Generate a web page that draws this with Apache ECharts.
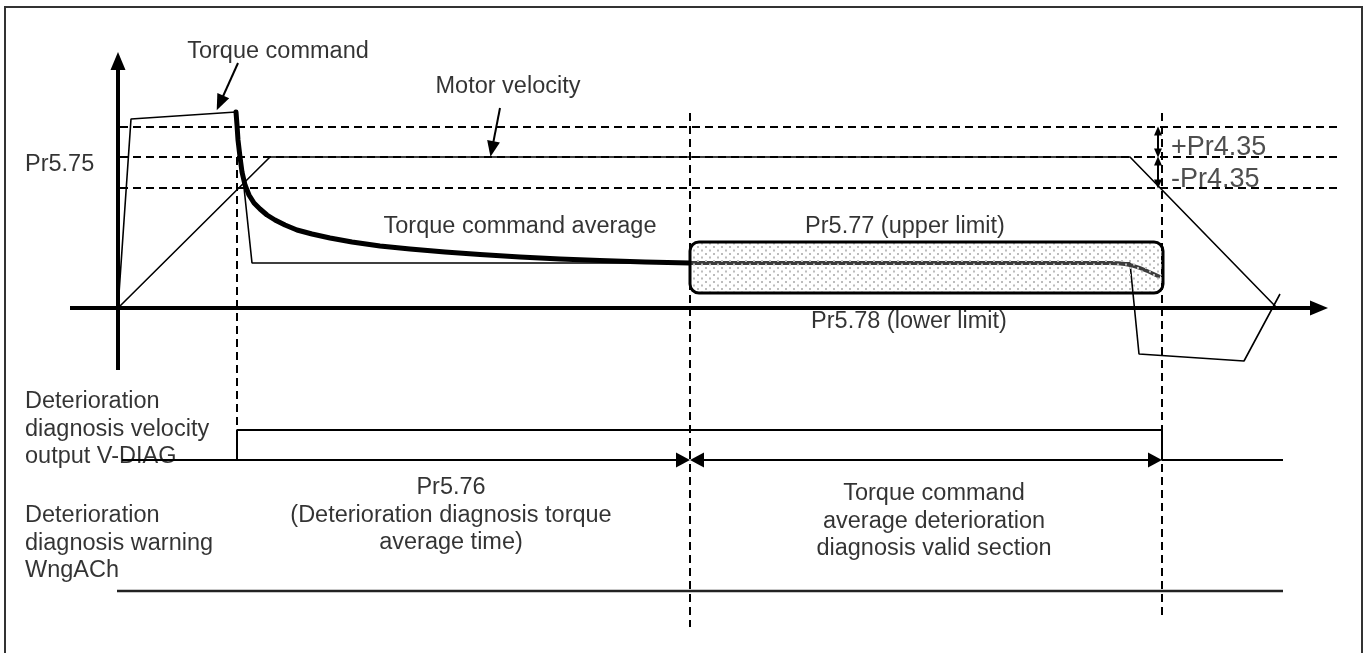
<!DOCTYPE html>
<html>
<head>
<meta charset="utf-8">
<title>Deterioration diagnosis</title>
<script src="https://cdn.jsdelivr.net/npm/echarts@6/dist/echarts.min.js"></script>
<style>
  html, body { margin: 0; padding: 0; background: #fff; }
  #chart { width: 1365px; height: 653px; }
</style>
</head>
<body>
<div id="chart"></div>
<script>
// x = time (0 = start of the move), y = level (0 = zero torque / velocity)
var torqueCmd = [[0, 0], [13, 189], [118, 196], [134, 45], [1012, 45], [1021, -46], [1126, -53], [1162, 14]];
var motorVel = [[0, 0], [152, 151], [1012, 151], [1159, 0]];
var torqueAvg = [[118, 196], [119, 183], [120, 168], [122, 151], [124, 136], [127, 123], [131, 113], [136, 105],
                 [142, 99], [149, 93], [157, 88], [167, 83], [179, 78], [194, 74], [212, 70], [234, 66],
                 [262, 62], [292, 59], [327, 56], [362, 53.5], [402, 51], [442, 49], [482, 47.5], [527, 46], [572, 45]];
var torqueAvgValid = [[572, 45], [992, 45], [1007, 44], [1022, 40], [1042, 31]];
var vDiag = [[4, -152], [119, -152], [119, -122], [1044, -122], [1044, -152], [1165, -152]];
var wngACh = [[-1, -283], [1165, -283]];

// Pr5.75 + Pr4.35, Pr5.75, Pr5.75 - Pr4.35
var levels = [181, 151, 120];
var levelSpan = [2, 1224];
// time, top, bottom
var markTimes = [[119, 151, -122], [572, 195, -319], [1044, 195, -310]];
// x0, y0, x1, y1  (Pr5.77 upper .. Pr5.78 lower window)
var limitBox = [572, 66, 1045, 15];

var axisX = [[-48, 0], [1201, 0]];
var axisY = [[0, -62], [0, 247]];
var pointers = [
  [[120, 245], [102, 205]],
  [[382, 200], [374, 159]]
];
var dimSpans = [
  [[119, -152, 'none'], [565, -152, 'triangle']],
  [[579, -152, 'triangle'], [1037, -152, 'triangle']]
];
var deltaSpans = [
  [[1040, 177], [1040, 155]],
  [[1040, 147], [1040, 124]]
];

var labels = [
  { text: 'Torque command', at: [160, 256], align: 'center' },
  { text: 'Motor velocity', at: [390, 221], align: 'center' },
  { text: 'Pr5.75', at: [-93, 143], align: 'left' },
  { text: '+Pr4.35', at: [1053, 160], align: 'left', big: true },
  { text: '-Pr4.35', at: [1053, 128], align: 'left', big: true },
  { text: 'Torque command average', at: [402, 81], align: 'center' },
  { text: 'Pr5.77 (upper limit)', at: [787, 81], align: 'center' },
  { text: 'Pr5.78 (lower limit)', at: [791, -14], align: 'center' },
  { text: 'Deterioration\ndiagnosis velocity\noutput V-DIAG', at: [-93, -80], align: 'left', top: true },
  { text: 'Deterioration\ndiagnosis warning\nWngACh', at: [-93, -194], align: 'left', top: true },
  { text: 'Pr5.76\n(Deterioration diagnosis torque\naverage time)', at: [333, -166], align: 'center', top: true },
  { text: 'Torque command\naverage deterioration\ndiagnosis valid section', at: [816, -172], align: 'center', top: true }
];

var FONT = "'Liberation Sans', Arial, sans-serif";
var DASH = [8, 5];

// dotted fill for the limit window
var dots = document.createElement('canvas');
dots.width = 8;
dots.height = 7;
var g = dots.getContext('2d');
g.fillStyle = '#bcbcbc';
g.fillRect(1, 1, 2, 2);
g.fillRect(5, 4.5, 2, 2);

function plain(name, data, color, width, z) {
  return {
    name: name, type: 'line', data: data, symbol: 'none', z: z || 3,
    lineStyle: { color: color, width: width }
  };
}

function arrows(name, pairs, width, size, symbols) {
  return {
    name: name, type: 'line', data: [], z: 6,
    markLine: {
      silent: true, animation: false,
      symbol: symbols || ['none', 'triangle'],
      symbolSize: size,
      label: { show: false },
      lineStyle: { color: '#000', width: width, type: 'solid' },
      data: pairs.map(function (p) {
        var a = { coord: [p[0][0], p[0][1]] };
        var b = { coord: [p[1][0], p[1][1]] };
        if (p[0][2]) a.symbol = p[0][2];
        if (p[1][2]) b.symbol = p[1][2];
        return [a, b];
      })
    }
  };
}

var series = [];

levels.forEach(function (lv, i) {
  series.push({
    name: 'level' + i, type: 'line', symbol: 'none', z: 2,
    data: [[levelSpan[0], lv], [levelSpan[1], lv]],
    lineStyle: { color: '#000', width: 2, type: DASH }
  });
});
markTimes.forEach(function (m, i) {
  series.push({
    name: 'mark' + i, type: 'line', symbol: 'none', z: 2,
    data: [[m[0], m[1]], [m[0], m[2]]],
    lineStyle: { color: '#000', width: 2, type: DASH }
  });
});

series.push(plain('Torque command', torqueCmd, '#000', 1.6));
series.push(plain('Motor velocity', motorVel, '#000', 1.6));
series.push({
  name: 'Torque command average', type: 'line', data: torqueAvg, symbol: 'none', z: 4,
  lineStyle: { color: '#000', width: 5, join: 'round', cap: 'round' }
});
series.push({
  name: 'Torque command average (valid)', type: 'line', data: torqueAvgValid, symbol: 'none', z: 4,
  smooth: 0.3,
  lineStyle: { color: '#3c3c3c', width: 4 }
});
series.push(plain('V-DIAG', vDiag, '#000', 2));
series.push(plain('WngACh', wngACh, '#222', 2.6));

series.push({
  name: 'limit window', type: 'custom', z: 5, silent: true,
  encode: { x: [0, 2], y: [1, 3] },
  data: [limitBox],
  renderItem: function (params, api) {
    var p0 = api.coord([api.value(0), api.value(1)]);
    var p1 = api.coord([api.value(2), api.value(3)]);
    return {
      type: 'rect',
      shape: { x: p0[0], y: p0[1], width: p1[0] - p0[0], height: p1[1] - p0[1], r: 9 },
      style: { fill: { image: dots, repeat: 'repeat' }, stroke: '#000', lineWidth: 3 }
    };
  }
});

series.push(arrows('axes', [axisX, axisY], 4, [15, 18]));
series.push(arrows('pointers', pointers, 2, [13, 16]));
series.push(arrows('spans', dimSpans, 2, [15, 14]));
series.push(arrows('deltas', deltaSpans, 2, [8, 9], ['triangle', 'triangle']));

series.push({
  name: 'labels', type: 'scatter', symbolSize: 0, z: 8, silent: true,
  data: labels.map(function (l) {
    var lab = {
      show: true,
      formatter: l.text,
      position: [0, 0],
      align: l.align,
      verticalAlign: l.top ? 'top' : 'middle',
      fontFamily: FONT,
      fontSize: l.big ? 27 : 23.5,
      lineHeight: 27.5,
      color: '#000'
    };
    if (l.big) {
      // the +/-Pr4.35 marks look printed twice in the original
      lab.color = '#222';
      lab.textShadowColor = 'rgba(0,0,0,0.45)';
      lab.textShadowOffsetX = 3;
      lab.textShadowOffsetY = 1;
    }
    return { value: l.at, label: lab };
  })
});

var chart = echarts.init(document.getElementById('chart'));
chart.setOption({
  animation: false,
  backgroundColor: '#fff',
  grid: { left: 5, top: 7, right: 3, bottom: 0 },
  xAxis: { type: 'value', min: -113, max: 1244, show: false },
  yAxis: { type: 'value', min: -345, max: 301, show: false },
  graphic: [{
    type: 'rect', silent: true, z: 10,
    shape: { x: 5, y: 7, width: 1357, height: 700 },
    style: { fill: 'none', stroke: '#333', lineWidth: 2 }
  }],
  series: series
});
</script>
</body>
</html>
